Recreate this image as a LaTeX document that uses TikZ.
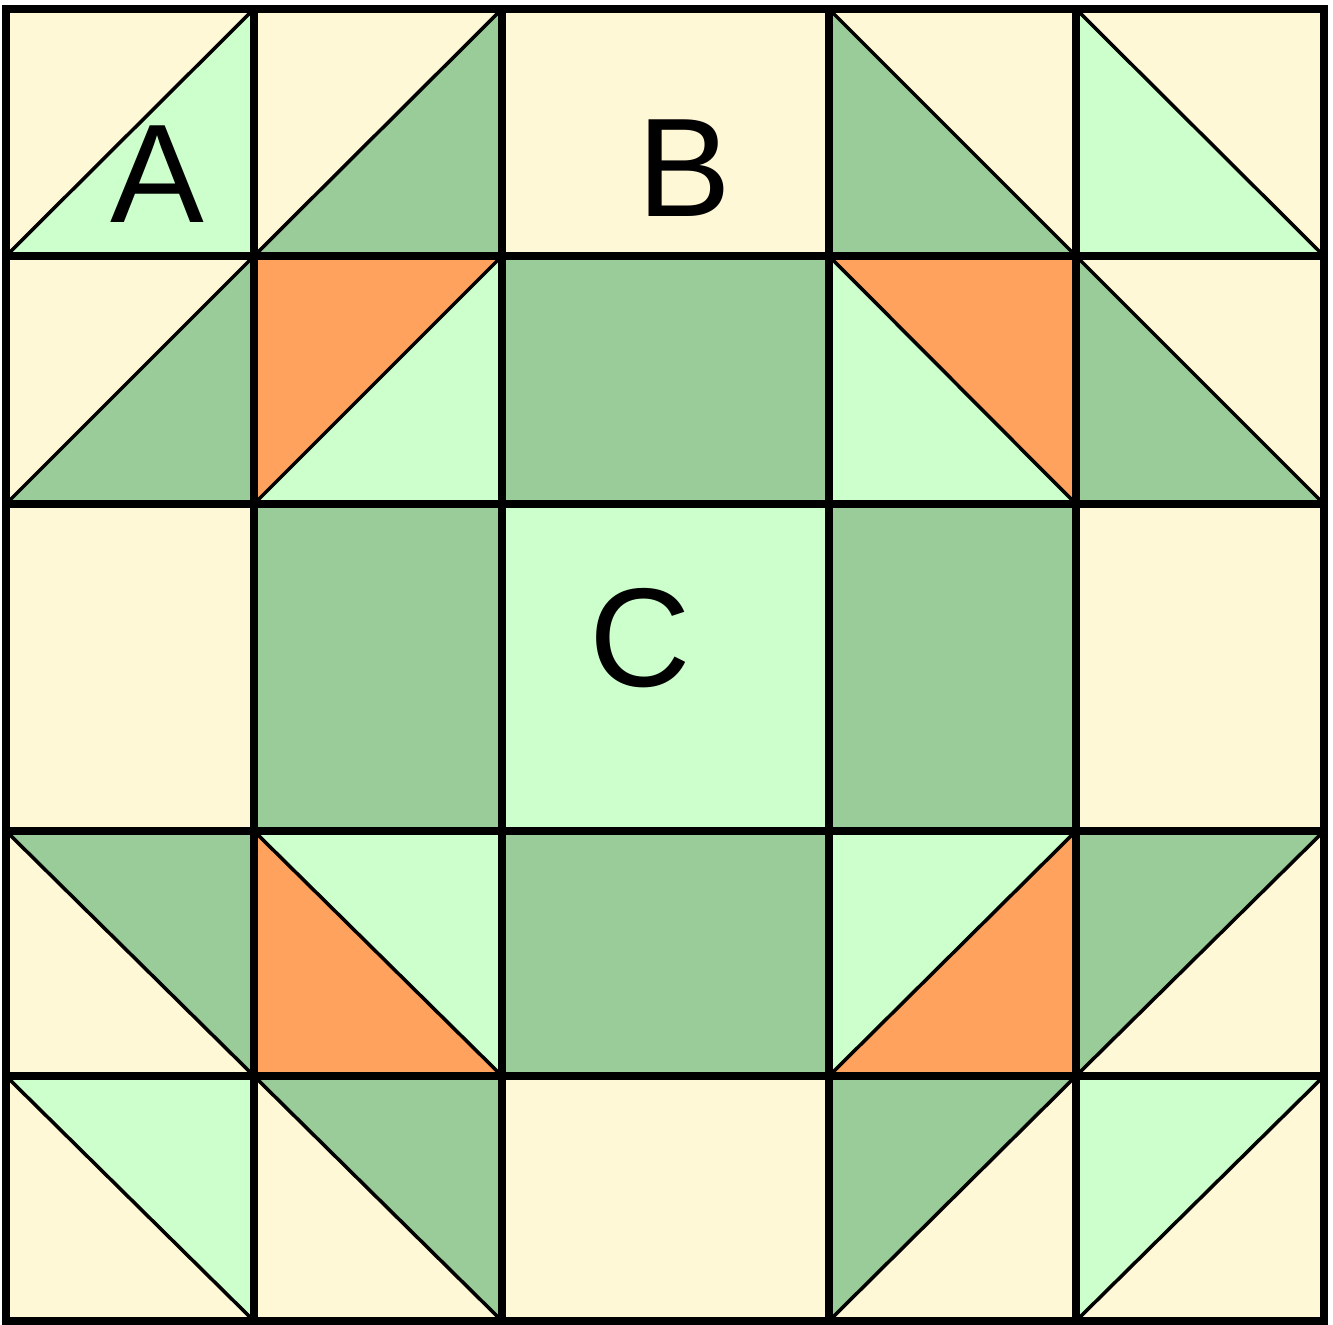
\documentclass[tikz,border=0pt]{standalone}
\usepackage{fontspec}
\setmainfont{Liberation Sans}
\definecolor{quiltcream}{RGB}{255,248,214}
\definecolor{quiltlight}{RGB}{204,255,204}
\definecolor{quiltdark}{RGB}{153,204,153}
\definecolor{quiltorange}{RGB}{255,162,94}
\tikzset{
  seam/.style={draw=black, line width=2.3pt, line cap=rect},
  fold/.style={draw=black, line width=1pt},
  patch/.style={font=\fontsize{40}{40}\selectfont, inner sep=0pt},
}
\begin{document}
\begin{tikzpicture}
  \useasboundingbox (0,0) rectangle (13.33,13.24);
  \fill[white] (0,0) rectangle (13.33,13.24);
  % grid points g-column-row, row 0 on top
  \foreach \i/\x in {0/0.06,1/2.54,2/5.02,3/8.29,4/10.76,5/13.24}
    \foreach \j/\y in {0/13.15,1/10.68,2/8.20,3/4.93,4/2.48,5/0.03}
      \coordinate (g-\i-\j) at (\x,\y);
  \fill[quiltcream] (g-0-0) rectangle (g-5-5);
  % whole squares
  \fill[quiltdark] (g-2-1) rectangle (g-3-2);
  \fill[quiltdark] (g-1-2) rectangle (g-2-3);
  \fill[quiltdark] (g-3-2) rectangle (g-4-3);
  \fill[quiltdark] (g-2-3) rectangle (g-3-4);
  \fill[quiltlight] (g-2-2) rectangle (g-3-3);
  % top row triangles
  \fill[quiltlight] (g-0-1) -- (g-1-0) -- (g-1-1) -- cycle;
  \fill[quiltdark] (g-1-1) -- (g-2-0) -- (g-2-1) -- cycle;
  \fill[quiltdark] (g-3-0) -- (g-3-1) -- (g-4-1) -- cycle;
  \fill[quiltlight] (g-4-0) -- (g-4-1) -- (g-5-1) -- cycle;
  % second row triangles
  \fill[quiltdark] (g-0-2) -- (g-1-1) -- (g-1-2) -- cycle;
  \fill[quiltorange] (g-1-1) -- (g-2-1) -- (g-1-2) -- cycle;
  \fill[quiltlight] (g-1-2) -- (g-2-1) -- (g-2-2) -- cycle;
  \fill[quiltlight] (g-3-1) -- (g-3-2) -- (g-4-2) -- cycle;
  \fill[quiltorange] (g-3-1) -- (g-4-1) -- (g-4-2) -- cycle;
  \fill[quiltdark] (g-4-1) -- (g-4-2) -- (g-5-2) -- cycle;
  % fourth row triangles
  \fill[quiltdark] (g-0-3) -- (g-1-3) -- (g-1-4) -- cycle;
  \fill[quiltlight] (g-1-3) -- (g-2-3) -- (g-2-4) -- cycle;
  \fill[quiltorange] (g-1-3) -- (g-1-4) -- (g-2-4) -- cycle;
  \fill[quiltlight] (g-3-3) -- (g-4-3) -- (g-3-4) -- cycle;
  \fill[quiltorange] (g-4-3) -- (g-4-4) -- (g-3-4) -- cycle;
  \fill[quiltdark] (g-4-3) -- (g-5-3) -- (g-4-4) -- cycle;
  % bottom row triangles
  \fill[quiltlight] (g-0-4) -- (g-1-4) -- (g-1-5) -- cycle;
  \fill[quiltdark] (g-1-4) -- (g-2-4) -- (g-2-5) -- cycle;
  \fill[quiltdark] (g-3-4) -- (g-4-4) -- (g-3-5) -- cycle;
  \fill[quiltlight] (g-4-4) -- (g-5-4) -- (g-4-5) -- cycle;
  % diagonal seams
  \draw[fold] (g-0-1) -- (g-1-0);
  \draw[fold] (g-1-1) -- (g-2-0);
  \draw[fold] (g-3-0) -- (g-4-1);
  \draw[fold] (g-4-0) -- (g-5-1);
  \draw[fold] (g-0-2) -- (g-1-1);
  \draw[fold] (g-1-2) -- (g-2-1);
  \draw[fold] (g-3-1) -- (g-4-2);
  \draw[fold] (g-4-1) -- (g-5-2);
  \draw[fold] (g-0-3) -- (g-1-4);
  \draw[fold] (g-1-3) -- (g-2-4);
  \draw[fold] (g-3-4) -- (g-4-3);
  \draw[fold] (g-4-4) -- (g-5-3);
  \draw[fold] (g-0-4) -- (g-1-5);
  \draw[fold] (g-1-4) -- (g-2-5);
  \draw[fold] (g-3-5) -- (g-4-4);
  \draw[fold] (g-4-5) -- (g-5-4);
  % block seams
  \foreach \k in {1,2,3,4} {
    \draw[seam] (g-\k-0) -- (g-\k-5);
    \draw[seam] (g-0-\k) -- (g-5-\k);
  }
  \draw[seam] (g-0-0) rectangle (g-5-5);
  % patch labels
  \node[patch] (lblA) at (1.57,11.50) {A};
  \node[patch] (lblB) at (6.84,11.56) {B};
  \node[patch] (lblC) at (6.40,6.86) {C};
\end{tikzpicture}
\end{document}
